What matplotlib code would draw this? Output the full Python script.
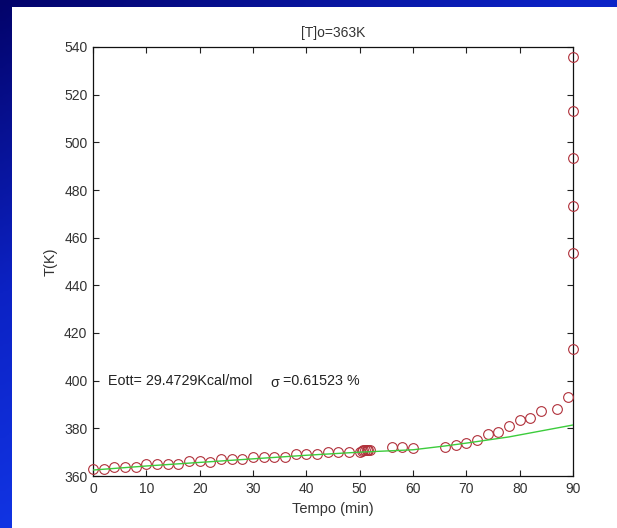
import numpy as np
import matplotlib
matplotlib.use("Agg")
import matplotlib.pyplot as plt
from matplotlib.colors import LinearSegmentedColormap

plt.rcParams['font.family'] = ['Liberation Sans', 'DejaVu Sans']

# ---- data ----
tempo_exp = [0, 2, 4, 6, 8, 10, 12, 14, 16, 18, 20, 22, 24, 26, 28, 30, 32, 34, 36,
             38, 40, 42, 44, 46, 48, 50, 50.4, 50.7, 51.0, 51.3, 51.6, 51.9,
             56, 58, 60, 66, 68, 70, 72, 74, 76, 78, 80, 82, 84, 87, 89,
             90, 90, 90, 90, 90, 90]
T_exp = [362.8, 362.8, 363.9, 363.9, 363.9, 365.2, 365.0, 364.9, 365.2, 366.3, 366.3,
         366.0, 367.1, 367.1, 367.1, 368.1, 368.1, 368.1, 368.1, 369.2, 369.2, 369.2,
         369.9, 369.9, 369.9, 369.9, 370.6, 370.8, 371.0, 370.9, 371.0, 370.9,
         372.0, 372.0, 371.9, 372.2, 373.2, 373.9, 375.3, 377.5, 378.6, 381.0, 383.5,
         384.5, 387.2, 388.3, 393.3,
         413.3, 453.5, 473.3, 493.6, 513.3, 536.0]

tempo_sim = [0, 10, 20, 30, 40, 50, 60, 66, 70, 78, 90]
T_sim = [362.5, 364.2, 365.7, 367.2, 368.7, 370.0, 371.0, 372.6, 373.8, 376.4, 381.4]

xticks = [0, 10, 20, 30, 40, 50, 60, 70, 80, 90]
yticks = [360, 380, 400, 420, 440, 460, 480, 500, 520, 540]

W, H = 617, 528
fig = plt.figure(figsize=(W / 100, H / 100), dpi=100)

# background blue gradient
bg = fig.add_axes([0, 0, 1, 1], zorder=-10)
yy, xx = np.mgrid[0:1:200j, 0:1:200j]
g = np.clip(0.9 * yy + 0.55 * xx, 0, 1)
cmap = LinearSegmentedColormap.from_list('bg', ['#03036a', '#0c22c4', '#1238ea'])
bg.imshow(g, cmap=cmap, aspect='auto', extent=[0, 1, 0, 1], origin='upper')
bg.set_axis_off()

# white panel
panel = fig.add_axes([12 / W, 0, 1 - 12 / W, 1 - 7 / H], zorder=-5)
panel.set_facecolor('white')
panel.set_xticks([]); panel.set_yticks([])
for s in panel.spines.values():
    s.set_visible(False)

L, R, T, B = 93, 573, 47, 476
ax = fig.add_axes([L / W, 1 - B / H, (R - L) / W, (B - T) / H])
ax.set_facecolor('white')
ax.plot(tempo_exp, T_exp, linestyle='none', marker='o', markersize=7,
        markerfacecolor='none', markeredgecolor='#b0303a', markeredgewidth=0.8,
        clip_on=False, zorder=3)
ax.plot(tempo_sim, T_sim, color='#3ccc3c', linewidth=1.0, zorder=4)

ax.set_xlim(0, 90)
ax.set_ylim(360, 540)
ax.set_xticks(xticks)
ax.set_yticks(yticks)
ax.tick_params(direction='in', length=4.5, width=0.8, top=True, right=True,
               labelsize=10, colors='#222222', labelcolor='#333333', pad=4)
for s in ax.spines.values():
    s.set_linewidth(0.9)
    s.set_color('#111111')

ax.set_title('[T]o=363K', fontsize=10, color='#333333', pad=7)
ax.set_xlabel('Tempo (min)', fontsize=10.5, color='#333333', labelpad=5)
ax.set_ylabel('T(K)', fontsize=10.5, color='#333333', labelpad=5)

ax.text(2.8, 400, 'Eott= 29.4729Kcal/mol', fontsize=10.3, color='#222222',
        va='center', ha='left')
ax.text(33.2, 399.0, 'σ', fontsize=10.3, color='#222222', va='center', ha='left')
ax.text(35.6, 400, '=0.61523 %', fontsize=10.3, color='#222222', va='center', ha='left')

fig.savefig('out.png', dpi=100)
